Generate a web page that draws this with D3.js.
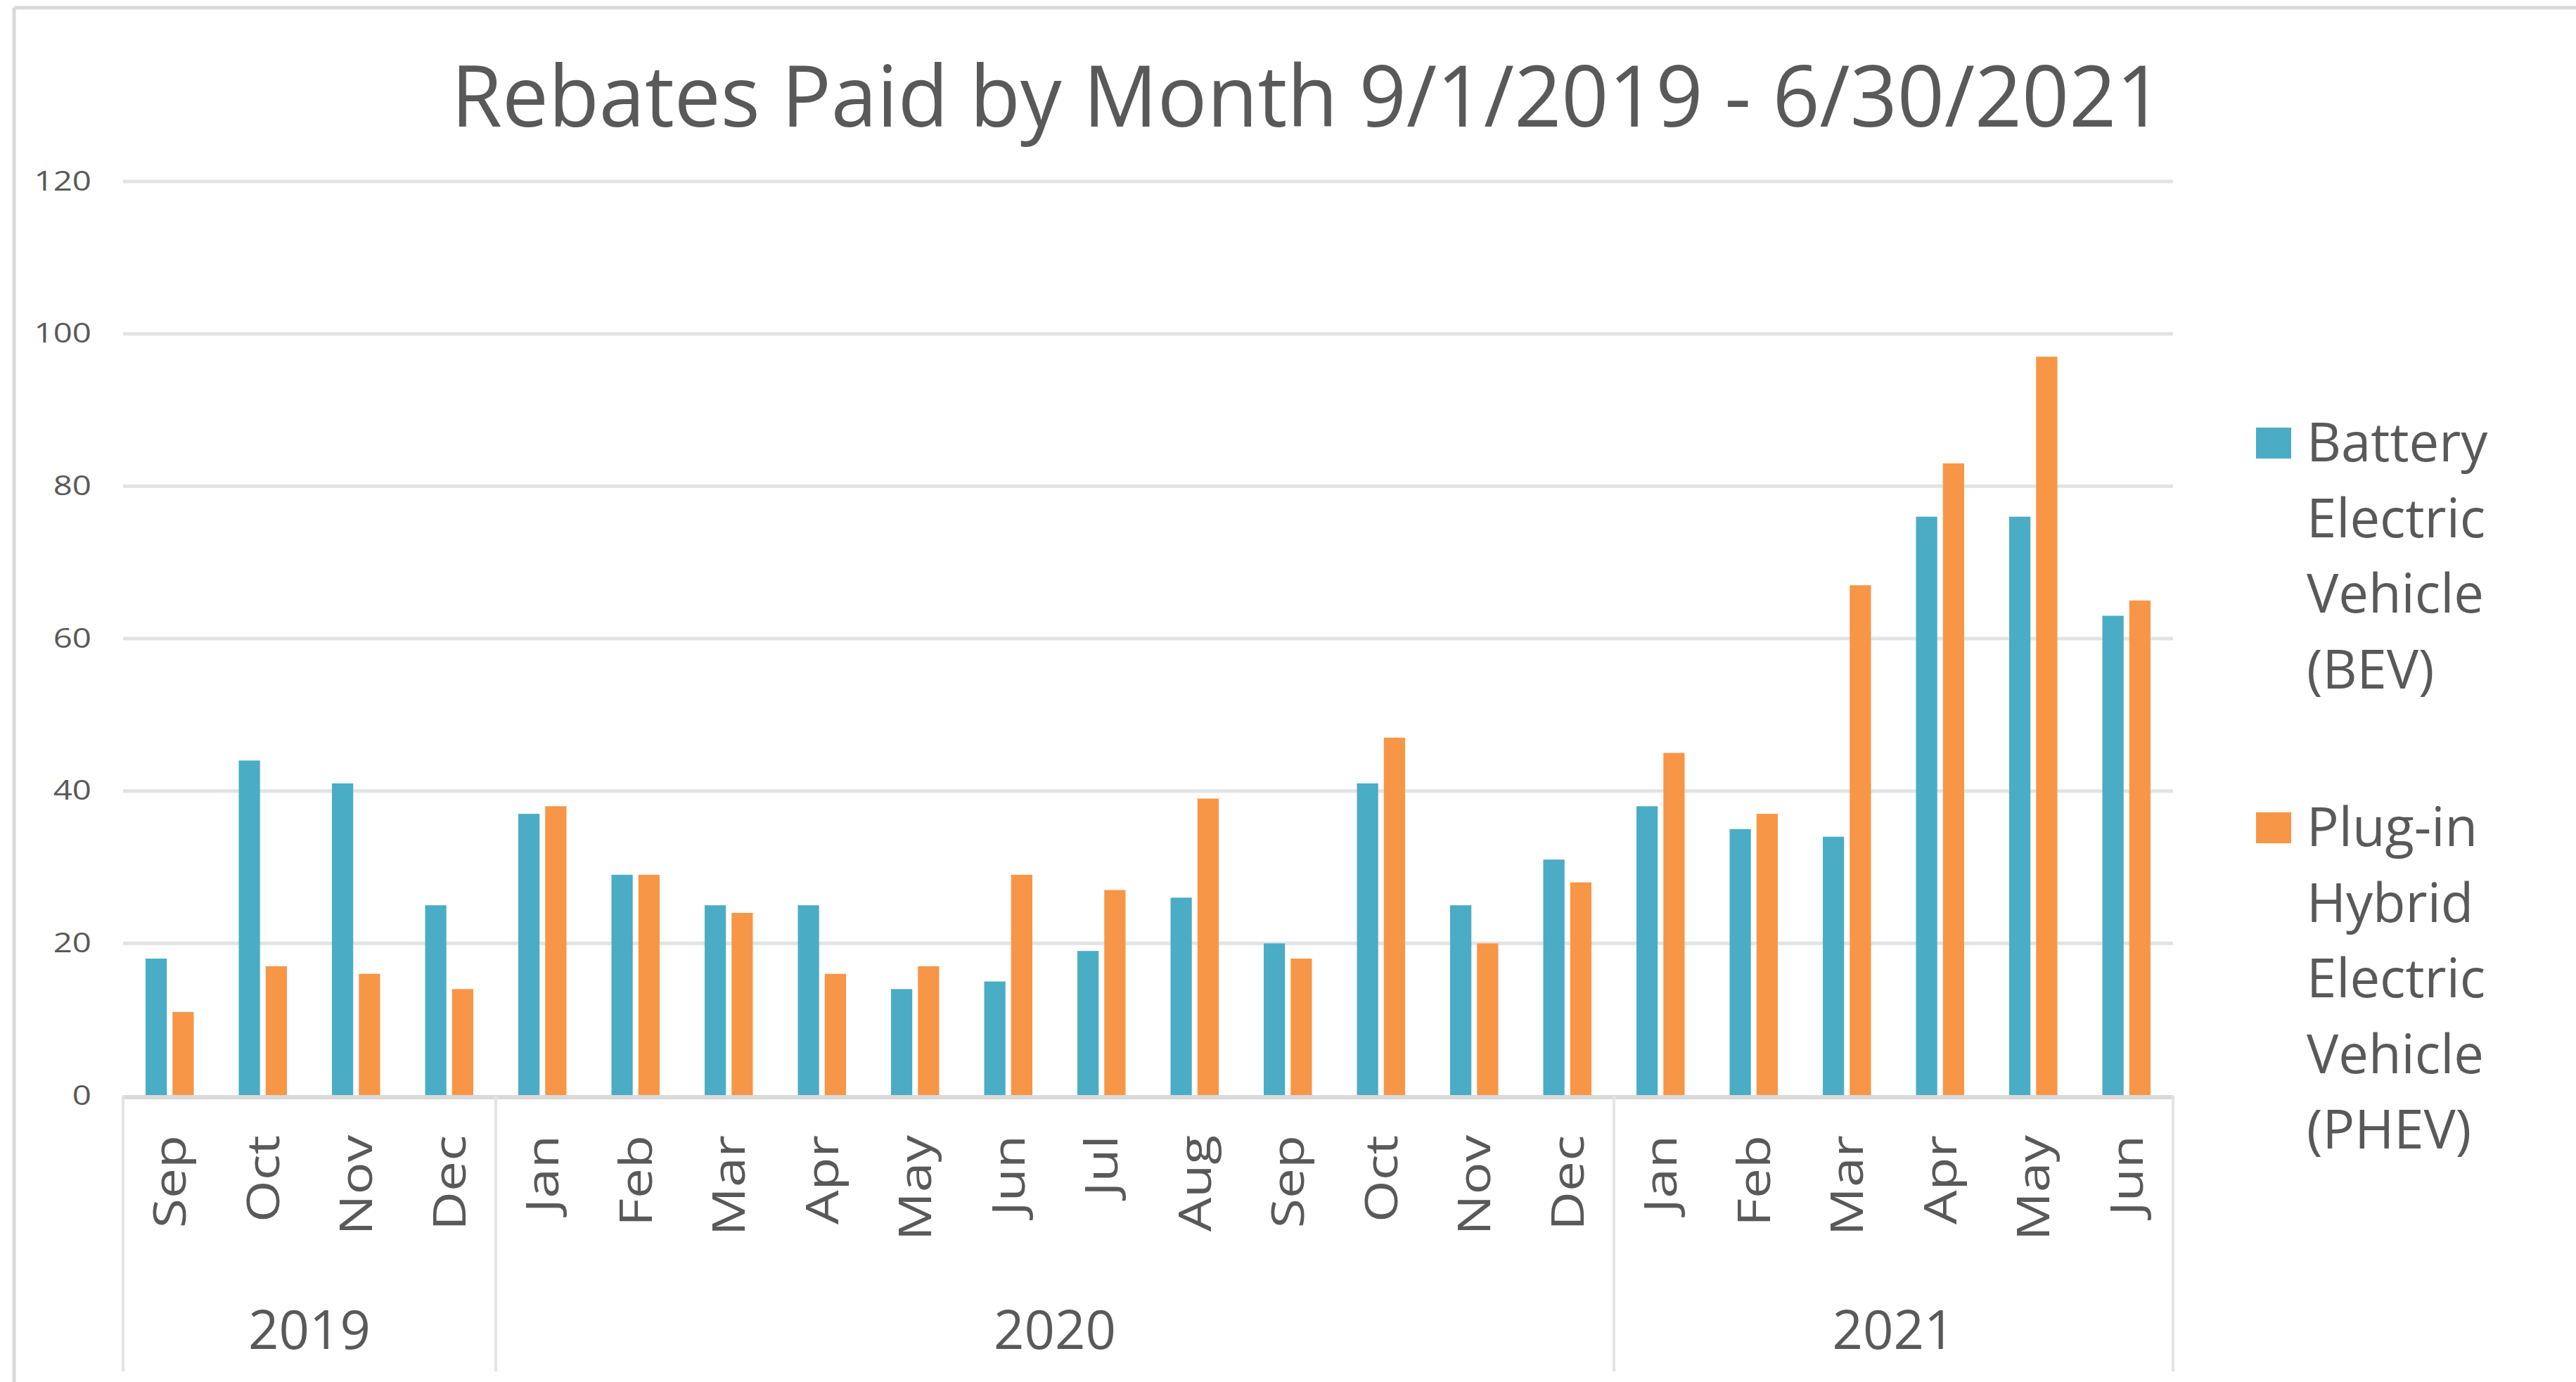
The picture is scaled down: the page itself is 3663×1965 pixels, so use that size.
<!DOCTYPE html>
<html>
<head>
<meta charset="utf-8">
<script src="https://cdn.jsdelivr.net/npm/d3@7"></script>
<style>
  html, body { margin: 0; padding: 0; background: #ffffff; }
  svg { display: block; }
  text { font-family: "Open Sans", "Noto Sans", sans-serif; fill: #595959; }
</style>
</head>
<body>
<script>
// ---- data ----
const title = "Rebates Paid by Month 9/1/2019 - 6/30/2021";
const months = ["Sep","Oct","Nov","Dec","Jan","Feb","Mar","Apr","May","Jun","Jul","Aug","Sep","Oct","Nov","Dec","Jan","Feb","Mar","Apr","May","Jun"];
const years = ["2019","2020","2021"];
const monthsPerYear = [4, 12, 6];
const seriesNames = ["Battery Electric Vehicle (BEV)", "Plug-in Hybrid Electric Vehicle (PHEV)"];
const legendLines = [["Battery","Electric","Vehicle","(BEV)"], ["Plug-in","Hybrid","Electric","Vehicle","(PHEV)"]];
const bevValues  = [18,44,41,25,37,29,25,25,14,15,19,26,20,41,25,31,38,35,34,76,76,63];
const phevValues = [11,17,16,14,38,29,24,16,17,29,27,39,18,47,20,28,45,37,67,83,97,65];
const yTicks = [0,20,40,60,80,100,120];
const colors = ["#4BACC6", "#F79646"];

// ---- layout ----
const W = 3663, H = 1965;
const plot = { left: 175, right: 3090, top: 258, bottom: 1558 };

const svg = d3.select("body").append("svg").attr("width", W).attr("height", H);
svg.append("rect").attr("width", W).attr("height", H).attr("fill", "#ffffff");

// outer frame (top + left edges)
svg.append("line").attr("x1", 20).attr("x2", W).attr("y1", 11).attr("y2", 11)
   .attr("stroke", "#d9d9d9").attr("stroke-width", 5);
svg.append("line").attr("x1", 20).attr("x2", 20).attr("y1", 11).attr("y2", H)
   .attr("stroke", "#d9d9d9").attr("stroke-width", 5);

// title
svg.append("text").attr("x", 1859).attr("y", 180).attr("text-anchor", "middle")
   .attr("font-size", 120).attr("textLength", 2435).attr("lengthAdjust", "spacingAndGlyphs")
   .text(title);

// scales
const idx = d3.range(months.length);
const x0 = d3.scaleBand().domain(idx).range([plot.left, plot.right]).padding(0);
const x1 = d3.scaleBand().domain([0, 1]).range([32, x0.bandwidth() - 32]).paddingInner(0.21);
const y = d3.scaleLinear().domain([0, 120]).range([plot.bottom, plot.top]);

// gridlines
svg.append("g").selectAll("line").data(yTicks.filter(t => t > 0)).join("line")
   .attr("x1", plot.left).attr("x2", plot.right)
   .attr("y1", d => y(d)).attr("y2", d => y(d))
   .attr("stroke", "#e3e3e3").attr("stroke-width", 5);

// y axis labels
const yAxis = d3.axisLeft(y).tickValues(yTicks).tickSize(0).tickPadding(0);
const gy = svg.append("g").attr("transform", "translate(130,0)").call(yAxis);
gy.select(".domain").remove();
gy.selectAll("text").attr("font-size", 38).attr("fill", "#595959")
  .attr("transform", "scale(1.25,1)")
  .style("font-family", "\"Open Sans\", sans-serif");

// bars
const seriesData = [bevValues, phevValues];
const groups = svg.append("g").selectAll("g").data(idx).join("g")
   .attr("transform", i => `translate(${x0(i)},0)`);
groups.selectAll("rect").data(i => [0, 1].map(s => ({ s, v: seriesData[s][i] }))).join("rect")
   .attr("x", d => x1(d.s)).attr("width", x1.bandwidth())
   .attr("y", d => y(d.v)).attr("height", d => y(0) - y(d.v))
   .attr("fill", d => colors[d.s]);

// x axis line
svg.append("line").attr("x1", plot.left).attr("x2", plot.right)
   .attr("y1", plot.bottom + 2).attr("y2", plot.bottom + 2)
   .attr("stroke", "#d9d9d9").attr("stroke-width", 6);

// year dividers
const yearStarts = [0];
monthsPerYear.forEach((n, i) => yearStarts.push(yearStarts[i] + n));
const dividerX = yearStarts.map(k => k < months.length ? x0(k) : plot.right);
svg.append("g").selectAll("line").data(dividerX).join("line")
   .attr("x1", d => d).attr("x2", d => d).attr("y1", plot.bottom).attr("y2", 1950)
   .attr("stroke", "#e3e3e3").attr("stroke-width", 4);

// month labels
svg.append("g").selectAll("text").data(idx).join("text")
   .attr("transform", i => `translate(${x0(i) + x0.bandwidth() / 2},1614) rotate(-90) scale(1.2,1)`)
   .attr("text-anchor", "end").attr("dy", "0.36em")
   .attr("font-size", 64).text(i => months[i]);

// year labels
svg.append("g").selectAll("text").data(years).join("text")
   .attr("x", (d, i) => (dividerX[i] + dividerX[i + 1]) / 2).attr("y", 1918)
   .attr("text-anchor", "middle").attr("font-size", 76).text(d => d);

// legend
const legendTop = [630, 1177];
const lg = svg.append("g").selectAll("g").data(seriesNames).join("g");
lg.append("rect").attr("x", 3208).attr("y", (d, i) => legendTop[i] - 22)
  .attr("width", 50).attr("height", 44).attr("fill", (d, i) => colors[i]);
lg.each(function (d, i) {
  d3.select(this).selectAll("text").data(legendLines[i]).join("text")
    .attr("x", 3280).attr("y", (t, j) => legendTop[i] + 26 + j * 107.5)
    .attr("font-size", 76).text(t => t);
});
</script>
</body>
</html>
